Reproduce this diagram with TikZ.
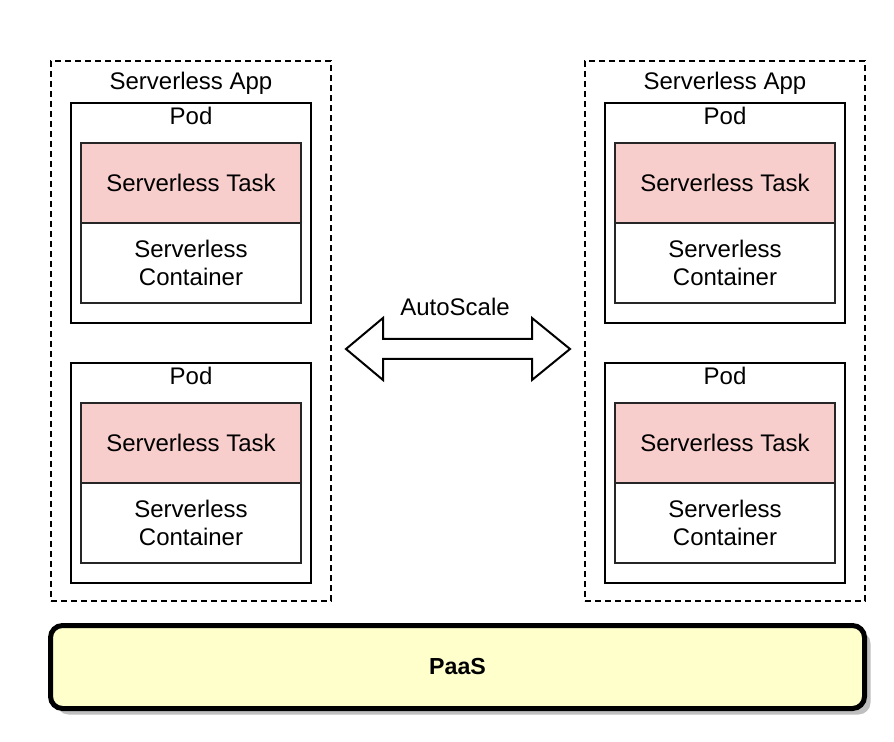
\documentclass[tikz,border=0pt]{standalone}
\usepackage{fontspec}
\setmainfont{Liberation Sans}
\usetikzlibrary{positioning, shadows}
\definecolor{taskpink}{HTML}{F8CECC}
\definecolor{paasyellow}{HTML}{FFFFCC}

\begin{document}
\begin{tikzpicture}[x=0.5pt, y=-0.5pt,
  txt/.style={font=\fontsize{12}{14}\selectfont, align=center, inner sep=0pt},
  app/.style={draw, dash pattern=on 3pt off 2pt, line width=0.8pt, minimum width=140pt, minimum height=270pt},
  pod/.style={draw, line width=1pt, minimum width=120pt, minimum height=110pt},
  task/.style={txt, draw=black!85, line width=0.9pt, outer sep=0pt, fill=taskpink, minimum width=110pt, minimum height=40pt},
  ctr/.style={task, fill=white},
  paas/.style={draw, line width=2.5pt, rounded corners=6pt, fill=paasyellow, minimum width=407pt, minimum height=41.5pt,
    font=\fontsize{11.6}{14}\selectfont\bfseries, drop shadow={shadow xshift=3pt, shadow yshift=-3pt, fill=black!25, opacity=1}},
]
  \useasboundingbox (0,0) rectangle (894,742);

  % Left app
  \node[app] (appL) at (191,331) {};
  \node[txt, anchor=base] (appLlbl) at (191,90) {Serverless App};
  \node[pod] (podL1) at (191,213) {};
  \node[txt] (podL1lbl) at (191,116) {Pod};
  \node[task] (taskL1) at (191,183) {Serverless Task};
  \node[ctr, below=0pt of taskL1] (ctrL1) {Serverless\\Container};
  \node[pod] (podL2) at (191,473) {};
  \node[txt] (podL2lbl) at (191,376) {Pod};
  \node[task] (taskL2) at (191,443) {Serverless Task};
  \node[ctr, below=0pt of taskL2] (ctrL2) {Serverless\\Container};

  % Right app
  \node[app] (appR) at (725,331) {};
  \node[txt, anchor=base] (appRlbl) at (725,90) {Serverless App};
  \node[pod] (podR1) at (725,213) {};
  \node[txt] (podR1lbl) at (725,116) {Pod};
  \node[task] (taskR1) at (725,183) {Serverless Task};
  \node[ctr, below=0pt of taskR1] (ctrR1) {Serverless\\Container};
  \node[pod] (podR2) at (725,473) {};
  \node[txt] (podR2lbl) at (725,376) {Pod};
  \node[task] (taskR2) at (725,443) {Serverless Task};
  \node[ctr, below=0pt of taskR2] (ctrR2) {Serverless\\Container};

  % AutoScale arrow
  \draw[line width=1pt, line join=miter, fill=white]
    (346,349) -- (383,318) -- (383,339) -- (532,339) -- (532,318) -- (570,349)
    -- (532,380) -- (532,359) -- (383,359) -- (383,380) -- cycle;
  \node[txt] (scale) at (455,307) {AutoScale};

  % Platform
  \node[paas] (paas) at (457.5,667) {PaaS};
\end{tikzpicture}
\end{document}
